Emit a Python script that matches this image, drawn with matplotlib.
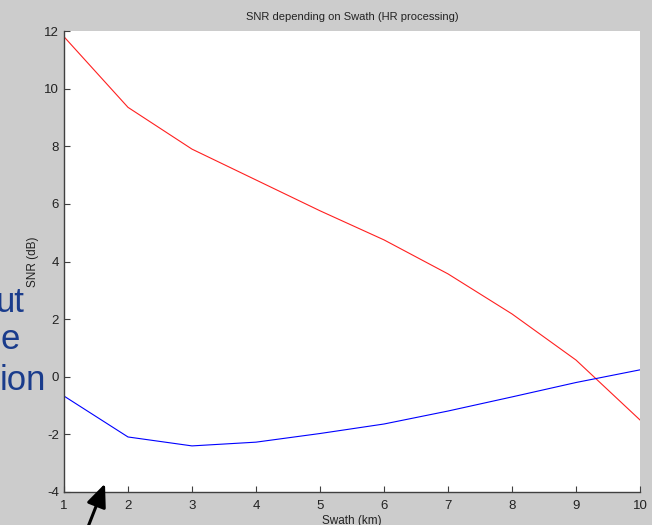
import matplotlib
matplotlib.use("Agg")
import matplotlib.pyplot as plt

swath_km = [1, 2, 3, 4, 5, 6, 7, 8, 9, 10]
snr_red = [11.8, 9.35, 7.9, 6.83, 5.76, 4.75, 3.57, 2.18, 0.58, -1.5]
snr_blue = [-0.67, -2.09, -2.4, -2.27, -1.97, -1.64, -1.19, -0.7, -0.2, 0.24]

xticks = list(range(1, 11))
yticks = list(range(-4, 13, 2))

plt.rcParams['font.family'] = ['Liberation Sans', 'DejaVu Sans']
plt.rcParams['axes.unicode_minus'] = False

fig = plt.figure(figsize=(6.52, 5.25), dpi=100, facecolor='#cccccc')
ax = fig.add_axes([64/652, 33/525, 576/652, 461/525])
ax.set_facecolor('white')

ax.plot(swath_km, snr_red, color='#ff2020', linewidth=0.8)
ax.plot(swath_km, snr_blue, color='#0000ff', linewidth=0.8)

ax.set_xlim(1, 10)
ax.set_ylim(-4, 12)
ax.set_xticks(xticks)
ax.set_yticks(yticks)
for s in ['top', 'right']:
    ax.spines[s].set_visible(False)
for s in ['left', 'bottom']:
    ax.spines[s].set_color('#404040')
    ax.spines[s].set_linewidth(1.0)
ax.tick_params(direction='in', length=4, width=0.8, colors='#404040',
               labelsize=9.5, labelcolor='#222222')
ax.tick_params(axis='x', pad=6)

ax.set_title('SNR depending on Swath (HR processing)', fontsize=8, color='#222222', pad=8)
ax.set_xlabel('Swath (km)', fontsize=8.5, color='#222222', labelpad=2)
ax.set_ylabel('SNR (dB)', fontsize=8.5, color='#222222', labelpad=4)

# slide text overlapping the figure
for word, xr, yb in [('ut', 25, 312), ('e', 20, 349), ('ion', 46, 390)]:
    fig.text(xr/652, 1 - yb/525, word, ha='right', va='baseline',
             fontsize=25, color='#1a3c8c')

ax.annotate('', xy=(106/652, 1 - 481/525), xycoords='figure fraction',
            xytext=(86/652, 1 - 532/525), textcoords='figure fraction',
            arrowprops=dict(arrowstyle='-|>,head_length=1.4,head_width=0.6',
                            color='black', lw=2.2),
            annotation_clip=False)

fig.savefig('out.png', dpi=100, facecolor=fig.get_facecolor())
